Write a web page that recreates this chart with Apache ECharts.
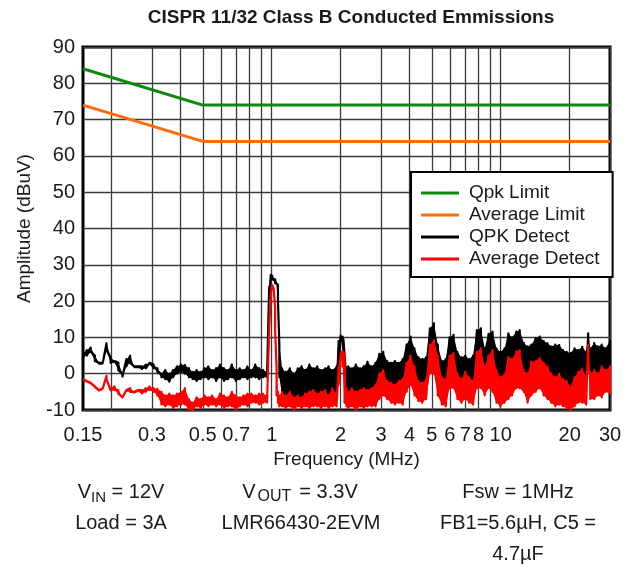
<!DOCTYPE html>
<html>
<head>
<meta charset="utf-8">
<script src="https://cdn.jsdelivr.net/npm/echarts@6/dist/echarts.min.js"></script>
<style>
  html, body { margin: 0; padding: 0; background: #fff; }
  #chart { width: 633px; height: 566px; }
</style>
</head>
<body>
<div id="chart"></div>
<script>
// Sweep frequencies (MHz) of the receiver scan
const freqMHz = [
  0.150,0.156,0.162,0.169,0.176,0.183,0.190,0.198,0.206,0.214,
  0.223,0.232,0.241,0.251,0.261,0.271,0.282,0.293,0.305,0.317,
  0.330,0.343,0.357,0.371,0.386,0.402,0.418,0.435,0.452,0.470,
  0.489,0.509,0.529,0.550,0.572,0.595,0.619,0.644,0.670,0.697,
  0.725,0.754,0.784,0.815,0.848,0.882,0.917,0.954,0.975,0.990,
  1.005,1.020,1.035,1.050,1.065,1.080,1.11,1.15,1.20,1.25,
  1.30,1.35,1.40,1.46,1.52,1.58,1.64,1.71,1.77,1.84,
  1.92,1.96,2.00,2.04,2.08,2.12,2.16,2.24,2.33,2.43,
  2.52,2.62,2.73,2.84,2.95,3.07,3.19,3.32,3.45,3.59,
  3.73,3.88,4.04,4.20,4.37,4.54,4.72,4.91,5.11,5.31,
  5.53,5.75,5.98,6.22,6.47,6.73,7.00,7.28,7.57,7.87,
  8.19,8.51,8.85,9.21,9.58,9.96,10.4,10.8,11.2,11.7,
  12.1,12.6,13.1,13.6,14.2,14.8,15.4,16.0,16.6,17.3,
  18.0,18.7,19.4,20.2,21.0,21.8,22.7,23.6,24.1,24.6,
  25.6,26.6,27.6,28.7,30.0
];

// Quasi-peak detector: upper and lower excursion in each frequency bin (dBuV)
const qpkHi = [
  5.5,6.5,7.2,5.0,3.0,3.0,8.4,4.5,3.5,3.0,
  0.0,4.0,5.0,2.0,2.0,2.0,2.5,3.0,2.5,1.5,
  0.0,1.0,0.0,1.0,2.0,2.5,2.4,1.5,0.5,1.0,
  0.5,1.5,2.0,1.0,1.5,2.5,1.5,1.0,2.5,1.0,
  1.5,1.0,2.0,1.0,2.5,1.5,1.0,0.5,24,27.2,
  27,26.5,26,25.5,24.5,8,1.5,0.5,1.5,0,
  1.5,2,1,2.5,1.5,2,1,1.5,2,1,
  2,9,10.5,10.2,9.5,2,2,1.5,2.5,1.5,
  2,3.3,2,3,5.5,6,3.5,3,3.5,3,
  4,8,10.2,7,4.5,4,4.5,12.5,13.9,8,
  3.5,4,10,10.7,6,4.5,5,4,5,12,
  12.5,7,11,11.6,7,6,7,11.1,10,11.6,
  12,8.5,7.5,8,9.8,10.2,9,8.4,7.5,8,
  7.9,6.5,6,5.7,7,6.5,7.4,6,11.1,7,
  8.4,7.5,8,7,9
];
const qpkLo = [
  4.5,5,6,3.5,2.5,2.5,6.5,3,3,1,
  -0.8,2,3,1.5,1.5,1.3,1.5,2.5,1.5,0.5,
  -1,-1.5,-2.2,-1,0,0.5,0,-1,-1.5,-2,
  -1.5,-1,-1.5,-1,-2,-1,-2,-1.5,-1,-2,
  -1.5,-1,-1.5,-1,-1,-1.5,-1,-1,20,26,
  26,25.5,25,24.5,20,-1,-6,-7,-6,-7.5,
  -7,-7.5,-6.5,-6,-5.5,-6.5,-6,-5.5,-7,-5,
  -6.5,2,9,9,2,-4.5,-6,-5,-6,-5.5,
  -5,-5.5,-5,-4,-1,0,-3,-3.5,-4,-3,
  -2.5,2,4,1,-3,-3.5,-2.5,7,8.3,4,
  -2,-2.5,4,4.7,-1,-2.5,-0.4,-2,-3,5,
  6,1,4,5.5,0,-2,-1,3.6,3,5.1,
  5.5,0,-1,2.3,2.5,3.3,2,1,-1,-2,
  -1,-2.5,-3,-4.7,-2,-0.5,0.4,-2,6.9,-1,
  0,-1,1,0,1
];

// Average detector: upper and lower excursion in each frequency bin (dBuV)
const avgHi = [
  -1.5,-2,-2.5,-3.5,-4.5,-4,-0.6,-4.5,-3.5,-4.5,
  -6.5,-4.5,-4,-5,-4.5,-4.5,-4,-3.5,-4,-4.2,
  -5,-6,-5.5,-6,-5.5,-5,-4,-7,-8,-6.5,
  -7,-6,-6.5,-6,-7,-5.5,-6,-6.5,-5,-6,
  -6.5,-6,-5.5,-5.5,-6,-5.5,-5.5,-6,12,22,
  24.4,24,18,2,-5,-6,-5,-6,-5,-6.5,
  -6,-6.5,-5.5,-5,-4.5,-5.5,-5,-4.5,-6,-4,
  -5.5,2,5.5,6.2,5.5,-4,-5,-4,-5,-4.5,
  -4,-4.5,-4,-3,0,1,-2,-2.5,-3,-2,
  -1.5,3,5,2,-2,-2.5,-1.5,8,9.3,5,
  -1,-1.5,5,5.7,0,-1.5,0.6,-1,-2,6,
  7,2,5,6.5,1,-1,0,4.6,4,6.1,
  6.5,1,0,3.3,3.5,4.3,3,2,0,-1,
  0,-1.5,-2,-3.7,-1,0.5,1.4,-1,7.9,0,
  1,0,2,1,2
];
const avgLo = [
  -2,-2.5,-3,-4,-5,-4.5,-1.5,-5,-4.5,-5.5,
  -7,-5,-5,-5.5,-5,-5.5,-5,-4.5,-5,-6,
  -8.5,-9,-8.5,-9.5,-9,-8.5,-8.5,-10,-10,-9,
  -9.5,-8.5,-9,-8.5,-9,-8.5,-9.5,-9,-9,-10,
  -9,-8.5,-9,-8,-8,-8.5,-8,-8,12,22,
  24,23.5,12,-6,-8,-9,-9,-9.5,-9,-10,
  -9,-9.5,-9,-9.5,-9,-9,-9.5,-9,-9.5,-9,
  -9,-3,5,2,-8,-9,-9.5,-9,-10,-9,
  -9.5,-9,-9,-9,-7,-6,-7,-8,-8.5,-8,
  -8.5,-5,-3,-6,-7.5,-8,-7,0,0,-6,
  -8.5,-9,-4,-4,-7,-8,-7,-8,-8.5,-4,
  -4,-6,-4,-5,-8,-9,-8,-7,-6,-4,
  -4,-5,-8,-6,-5,-4,-6,-7,-8,-9,
  -8.5,-9,-9.5,-10,-9,-8,-8,-8.5,2,-7,
  -7,-6,-6.5,-5,-5.5
];

// CISPR 11/32 Class B limit corners
const limitFreqMHz = [0.15, 0.5, 30];
const qpkLimit = [84, 74, 74];
const avgLimit = [74, 64, 64];

// Axis ticks
const xLabelValues = [0.15, 0.3, 0.5, 0.7, 1, 2, 3, 4, 5, 6, 7, 8, 10, 20, 30];
const xGridValues = [0.2, 0.3, 0.4, 0.5, 0.6, 0.7, 0.8, 0.9, 1, 2, 3, 4, 5, 6, 7, 8, 9, 10, 20, 30];

const FONT = '"Liberation Sans", Arial, Helvetica, sans-serif';
const INK = '#1a1a1a';
const QPK_COLOR = '#000000';
const AVG_COLOR = '#ff0000';

// Trace drawn as a vertical stroke per bin: top of the bin, then bottom
function sweep(hi, lo) {
  const out = [];
  freqMHz.forEach((f, i) => { out.push([f, hi[i]]); out.push([f, lo[i]]); });
  return out;
}
function limit(vals) {
  return limitFreqMHz.map((f, i) => [f, vals[i]]);
}
function fmtFreq(v) {
  return String(parseFloat(Number(v).toPrecision(3)));
}

// Filled envelope between the upper and lower excursion of a detector trace
function envelope(hi, lo, color, z) {
  return {
    type: 'custom', silent: true, z,
    data: [[1, 0]],
    renderItem(params, api) {
      const pts = [];
      for (let i = 0; i < freqMHz.length; i++) pts.push(api.coord([freqMHz[i], hi[i]]));
      for (let i = freqMHz.length - 1; i >= 0; i--) pts.push(api.coord([freqMHz[i], lo[i]]));
      return { type: 'polygon', shape: { points: pts }, style: { fill: color } };
    }
  };
}

const chart = echarts.init(document.getElementById('chart'), null, { renderer: 'canvas' });

const noteText = (x, y, text) => ({
  type: 'text', x, y, z: 10,
  style: {
    text, align: 'center', verticalAlign: 'middle', fill: INK,
    font: '20px ' + FONT,
    rich: {
      v: { fontSize: 20, fontFamily: FONT, color: INK, lineHeight: 26 },
      w: { fontSize: 20, fontFamily: FONT, color: INK, lineHeight: 26, padding: [0, 0, 0, 4] },
      s: { fontSize: 15, fontFamily: FONT, color: INK, lineHeight: 12, verticalAlign: 'bottom' },
      so: { fontSize: 16, fontFamily: FONT, color: INK, lineHeight: 12, verticalAlign: 'bottom', padding: [0, 4, 0, 2] }
    }
  }
});

chart.setOption({
  animation: false,
  backgroundColor: '#fff',
  title: {
    text: 'CISPR 11/32 Class B Conducted Emmissions',
    left: 346, top: 3, textAlign: 'center',
    textStyle: { fontFamily: FONT, fontSize: 19, fontWeight: 'bold', color: INK }
  },
  grid: {
    left: 83, right: 23, top: 47, bottom: 156,
    show: true, borderColor: '#000', borderWidth: 3, backgroundColor: '#fff'
  },
  legend: {
    orient: 'vertical', left: 411, top: 172, z: 20,
    padding: [11, 13, 8, 10], itemGap: 2,
    itemWidth: 38, itemHeight: 3, icon: 'rect',
    borderColor: '#000', borderWidth: 2, backgroundColor: '#fff',
    textStyle: { fontFamily: FONT, fontSize: 19, color: INK, lineHeight: 20, padding: [0, 0, 0, 5] },
    data: ['Qpk Limit', 'Average Limit', 'QPK Detect', 'Average Detect']
  },
  xAxis: {
    type: 'log', logBase: 10, min: 0.15, max: 30,
    name: 'Frequency (MHz)', nameLocation: 'middle', nameGap: 33,
    nameTextStyle: { fontFamily: FONT, fontSize: 19, color: INK },
    axisLine: { show: false },
    axisTick: { show: false, customValues: xGridValues },
    axisLabel: {
      customValues: xLabelValues, formatter: fmtFreq, margin: 15,
      fontFamily: FONT, fontSize: 20, color: INK, hideOverlap: false
    },
    splitLine: { show: true, lineStyle: { color: '#3a3a3a', width: 1.3 } },
    minorSplitLine: { show: false }
  },
  yAxis: {
    type: 'value', min: -10, max: 90, interval: 10,
    name: 'Amplitude (dBuV)', nameLocation: 'middle', nameGap: 49, nameRotate: 90,
    nameTextStyle: { fontFamily: FONT, fontSize: 19, color: INK },
    axisLine: { show: false },
    axisTick: { show: false },
    axisLabel: { margin: 8, fontFamily: FONT, fontSize: 20, color: INK },
    splitLine: { show: true, lineStyle: { color: '#3a3a3a', width: 1.3 } }
  },
  series: [
    {
      name: 'Qpk Limit', type: 'line', data: limit(qpkLimit),
      showSymbol: false, symbol: 'none', color: '#0a8a0a',
      lineStyle: { width: 3, color: '#0a8a0a' }, z: 3
    },
    {
      name: 'Average Limit', type: 'line', data: limit(avgLimit),
      showSymbol: false, symbol: 'none', color: '#ff6a0a',
      lineStyle: { width: 3, color: '#ff6a0a' }, z: 3
    },
    envelope(qpkHi, qpkLo, QPK_COLOR, 4),
    {
      name: 'QPK Detect', type: 'line', data: sweep(qpkHi, qpkLo),
      showSymbol: false, symbol: 'none', color: QPK_COLOR,
      lineStyle: { width: 2.2, color: QPK_COLOR, join: 'round' }, z: 5
    },
    envelope(avgHi, avgLo, AVG_COLOR, 6),
    {
      name: 'Average Detect', type: 'line', data: sweep(avgHi, avgLo),
      showSymbol: false, symbol: 'none', color: AVG_COLOR,
      lineStyle: { width: 2.2, color: AVG_COLOR, join: 'round' }, z: 7
    }
  ],
  graphic: [
    noteText(121, 492, '{v|V}{s|IN}{v| = 12V}'),
    noteText(121, 523, '{v|Load = 3A}'),
    noteText(300, 492, '{v|V}{so|OUT}{w|= 3.3V}'),
    noteText(301, 523, '{v|LMR66430-2EVM}'),
    noteText(518, 492, '{v|Fsw = 1MHz}'),
    noteText(518, 523, '{v|FB1=5.6µH, C5 =}'),
    noteText(518, 554, '{v|4.7µF}')
  ]
});
</script>
</body>
</html>
